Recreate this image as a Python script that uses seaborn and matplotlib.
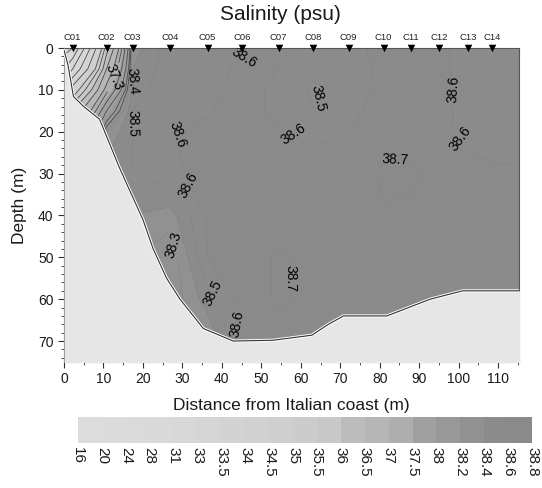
import numpy as np
import matplotlib
matplotlib.use("Agg")
import matplotlib.pyplot as plt
import seaborn as sns
from matplotlib.colors import ListedColormap, BoundaryNorm
from matplotlib.ticker import MultipleLocator

# ---------------- data ----------------
stations = ["C01", "C02", "C03", "C04", "C05", "C06", "C07",
            "C08", "C09", "C10", "C11", "C12", "C13", "C14"]
station_x = [2.2, 10.8, 17.4, 26.8, 36.4, 45.2, 54.4,
             63.2, 72.1, 81.0, 88.0, 95.0, 102.3, 108.5]

# salinity profiles (one row per profile position, values by depth)
profile_x = [0.0, 2.2, 10.8, 17.4, 26.8, 36.4, 45.2, 54.4,
             63.2, 72.1, 81.0, 88.0, 95.0, 102.3, 108.5, 115.5]
depths = [0, 5, 10, 15, 20, 30, 40, 50, 60, 70, 75]
salinity = [
    [29.5, 31.0, 33.0, 35.0, 36.0, 37.0, 37.0, 37.0, 37.0, 37.0, 37.0],
    [30.0, 32.0, 34.5, 36.0, 37.0, 37.5, 37.8, 38.0, 38.0, 38.0, 38.0],
    [35.8, 36.5, 37.2, 37.9, 38.3, 38.45, 38.4, 38.3, 38.25, 38.25, 38.25],
    [38.35, 38.4, 38.45, 38.5, 38.5, 38.5, 38.4, 38.3, 38.25, 38.25, 38.25],
    [38.55, 38.56, 38.57, 38.58, 38.595, 38.58, 38.35, 38.22, 38.22, 38.22, 38.22],
    [38.55, 38.56, 38.58, 38.595, 38.62, 38.64, 38.62, 38.6, 38.45, 38.3, 38.3],
    [38.58, 38.62, 38.63, 38.63, 38.62, 38.63, 38.64, 38.66, 38.66, 38.62, 38.6],
    [38.61, 38.6, 38.58, 38.58, 38.61, 38.64, 38.67, 38.71, 38.71, 38.68, 38.66],
    [38.58, 38.52, 38.48, 38.5, 38.58, 38.63, 38.66, 38.68, 38.68, 38.66, 38.65],
    [38.59, 38.58, 38.57, 38.58, 38.6, 38.64, 38.66, 38.67, 38.67, 38.66, 38.65],
    [38.61, 38.61, 38.62, 38.63, 38.66, 38.72, 38.69, 38.65, 38.65, 38.65, 38.65],
    [38.62, 38.62, 38.62, 38.63, 38.66, 38.72, 38.68, 38.66, 38.65, 38.65, 38.65],
    [38.62, 38.62, 38.62, 38.62, 38.62, 38.66, 38.66, 38.65, 38.64, 38.64, 38.64],
    [38.57, 38.57, 38.58, 38.58, 38.58, 38.63, 38.65, 38.64, 38.64, 38.64, 38.64],
    [38.57, 38.57, 38.57, 38.57, 38.57, 38.61, 38.64, 38.64, 38.64, 38.64, 38.64],
    [38.57, 38.57, 38.57, 38.57, 38.57, 38.61, 38.64, 38.64, 38.64, 38.64, 38.64],
]

# sea-floor profile
bottom_x = [0, 1, 2.4, 5, 9, 14, 20, 22.6, 26, 29.4, 35.3, 42.9, 53,
            62.8, 67, 70.8, 81.8, 92.8, 101, 115.5]
bottom_depth = [0.5, 4, 11.6, 14, 17, 28.5, 41, 48, 55, 60, 67, 70, 69.8,
                68.6, 66, 64, 64, 60, 58, 58]

# colour scale
levels = [16, 20, 24, 28, 31, 33, 33.5, 34, 34.5, 35, 35.5, 36, 36.5,
          37, 37.5, 38, 38.2, 38.4, 38.6, 38.8]
level_labels = ["16", "20", "24", "28", "31", "33", "33.5", "34", "34.5",
                "35", "35.5", "36", "36.5", "37", "37.5", "38", "38.2",
                "38.4", "38.6", "38.8"]
block_colors = ["#dcdcdc", "#dbdbdb", "#dadada", "#d9d9d9", "#d7d7d7",
                "#d5d5d5", "#d3d3d3", "#d1d1d1", "#cfcfcf", "#cccccc",
                "#c8c8c8", "#bcbcbc", "#b6b6b6", "#aeaeae", "#a0a0a0",
                "#989898", "#919191", "#8b8b8b", "#8a8a8a"]

coast_line_levels = [30, 31, 32, 33, 34, 35, 35.5, 36, 36.5, 37, 37.3,
                     37.6, 37.9, 38.1, 38.2]
open_line_levels = [38.3, 38.4, 38.5, 38.6, 38.7]
coast_label_pos = [(12.5, 7)]
open_label_pos = [(17.5, 8), (17, 18), (26, 21), (46, 3), (31, 33),
                  (28, 47), (37, 59), (44, 66), (55, 55), (60, 18),
                  (67, 13), (98, 10), (100, 22), (84, 31)]

# ---------------- style ----------------
sns.set_theme(style="ticks")
plt.rcParams["font.family"] = ["Liberation Sans", "DejaVu Sans"]

fig = plt.figure(figsize=(5.42, 4.88), dpi=100)
fig.patch.set_facecolor("white")
ax = fig.add_axes([64 / 542, 1 - 362 / 488, 455 / 542, 314 / 488])
cax = fig.add_axes([78 / 542, 1 - 443 / 488, 454 / 542, 26 / 488])

X, Y = np.meshgrid(profile_x, depths)
Z = np.array(salinity).T

cmap = ListedColormap(block_colors)
norm = BoundaryNorm(levels, cmap.N)
cf = ax.contourf(X, Y, Z, levels=levels, cmap=cmap, norm=norm, zorder=1)

cs_coast = ax.contour(X, Y, Z, levels=coast_line_levels, colors="#4a4a4a",
                      linewidths=0.6, zorder=2)
cs_open = ax.contour(X, Y, Z, levels=open_line_levels, colors="#858585",
                     linewidths=0.5, zorder=2)
ax.clabel(cs_coast, fmt="%.1f", fontsize=10, colors="black",
          manual=coast_label_pos, inline=True, inline_spacing=2)
ax.clabel(cs_open, fmt="%.1f", fontsize=10, colors="black",
          manual=open_label_pos, inline=True, inline_spacing=2)

# land
ax.fill_between(bottom_x, bottom_depth, 80, color="#e6e6e6", zorder=3,
                linewidth=0)
sns.lineplot(x=bottom_x, y=bottom_depth, ax=ax, color="white", lw=2.2,
             zorder=4, sort=False)
sns.lineplot(x=bottom_x, y=bottom_depth, ax=ax, color="#303030", lw=0.8,
             zorder=5, sort=False)

# stations
ax.scatter(station_x, [0] * len(station_x), marker="v", s=30, color="black",
           clip_on=False, zorder=6, linewidths=0)
for name, sx in zip(stations, station_x):
    ax.annotate(name, (sx, 0), xytext=(0, 4.5), textcoords="offset points",
                ha="center", va="bottom", fontsize=6.8, color="#222222",
                annotation_clip=False)

ax.set_xlim(0, 115.3)
ax.set_ylim(75, 0)
ax.set_xticks(range(0, 111, 10))
ax.set_yticks(range(0, 71, 10))
ax.xaxis.set_minor_locator(MultipleLocator(5))
ax.yaxis.set_minor_locator(MultipleLocator(2))
ax.tick_params(which="major", length=4, width=0.8, labelsize=10,
               colors="#333333", labelcolor="#1a1a1a", direction="out")
ax.tick_params(which="minor", length=2, width=0.6, colors="#333333",
               direction="out")
ax.tick_params(axis="x", which="both", bottom=True)
ax.tick_params(axis="y", which="both", left=True)
for sp in ax.spines.values():
    sp.set_color("#555555")
    sp.set_linewidth(0.8)
ax.set_xlabel("Distance from Italian coast (m)", fontsize=12.5, labelpad=8,
              color="#1a1a1a")
ax.set_ylabel("Depth (m)", fontsize=12.5, labelpad=8, color="#1a1a1a")
ax.grid(False)

fig.text(280 / 542, 1 - 14 / 488, "Salinity (psu)", ha="center",
         va="center", fontsize=15, color="#1a1a1a")

cb = fig.colorbar(cf, cax=cax, orientation="horizontal", ticks=levels,
                  spacing="uniform")
cb.outline.set_visible(False)
cax.tick_params(length=0, labelsize=11, pad=3, labelcolor="#1a1a1a")
cax.set_xticklabels(level_labels, rotation=270)

fig.savefig("out.png", dpi=100)
